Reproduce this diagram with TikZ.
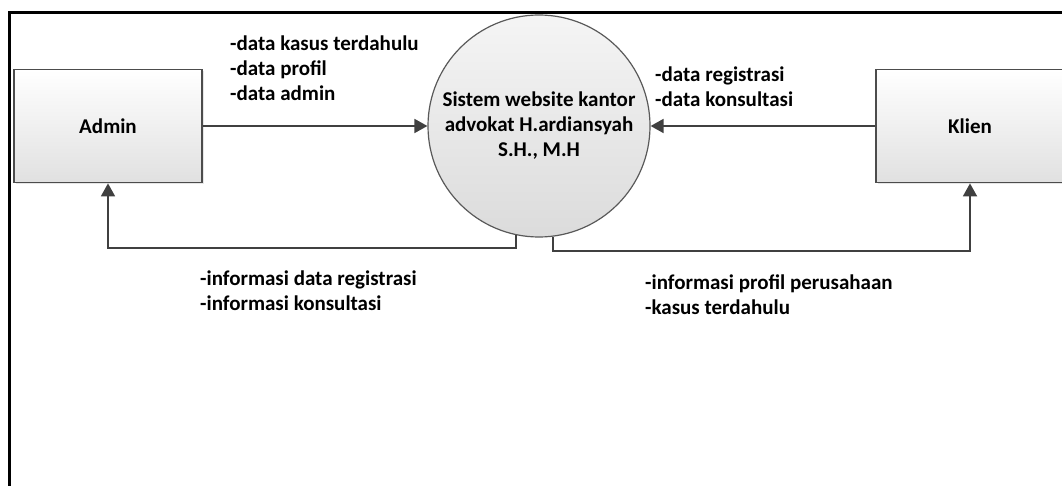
\documentclass[tikz,border=0pt]{standalone}
\usepackage{fontspec}
\setmainfont{Carlito}
\usetikzlibrary{arrows.meta, shadows}

\begin{document}
\begin{tikzpicture}[
                x=1pt, y=-1pt,
                entity/.style = {rectangle, draw=black!70, line width=1.8pt, minimum width=188pt, minimum height=113pt,
                                 top color=white, bottom color=black!12,
                                 drop shadow={opacity=0.2, shadow xshift=2pt, shadow yshift=-2pt},
                                 font=\fontsize{21}{25}\selectfont\bfseries},
                process/.style = {circle, draw=black!65, line width=1.2pt, minimum size=222pt, inner sep=0pt,
                                  top color=white!96!black, bottom color=black!14, align=center,
                                  font=\fontsize{21}{25}\selectfont\bfseries},
                flowlabel/.style = {anchor=west, inner sep=0pt, align=left, font=\fontsize{21}{25}\selectfont\bfseries},
                arrow/.style = {-{Triangle[length=13pt, width=14pt]}, draw=black!75, line width=1.8pt, color=black!75}
              ]
              \useasboundingbox (0,0) rectangle (1062,486);
              % Frame
              \draw[line width=3pt] (9,520) |- (1090,13);
              % Nodes
              \node[entity] (admin) at (108,126) {Admin};
              \node[entity] (klien) at (970,126) {Klien};
              \node[process] (sys) at (539,126) {Sistem website kantor\\advokat H.ardiansyah\\S.H., M.H};
              % Flows
              \draw[arrow] (admin) -- (sys);
              \draw[arrow] (klien) -- (sys);
              \draw[arrow] (sys.258) -- ++(0,13) -| (admin.south);
              \draw[arrow] (sys.277) -- ++(0,14) -| (klien.south);
              % Labels
              \node[flowlabel] (lbl1) at (230,68) {-data kasus terdahulu\\-data profil\\-data admin};
              \node[flowlabel] (lbl2) at (655,87) {-data registrasi\\-data konsultasi};
              \node[flowlabel] (lbl3) at (200,291) {-informasi data registrasi\\-informasi konsultasi};
              \node[flowlabel] (lbl4) at (645,295) {-informasi profil perusahaan\\-kasus terdahulu};
            \end{tikzpicture}
\end{document}
